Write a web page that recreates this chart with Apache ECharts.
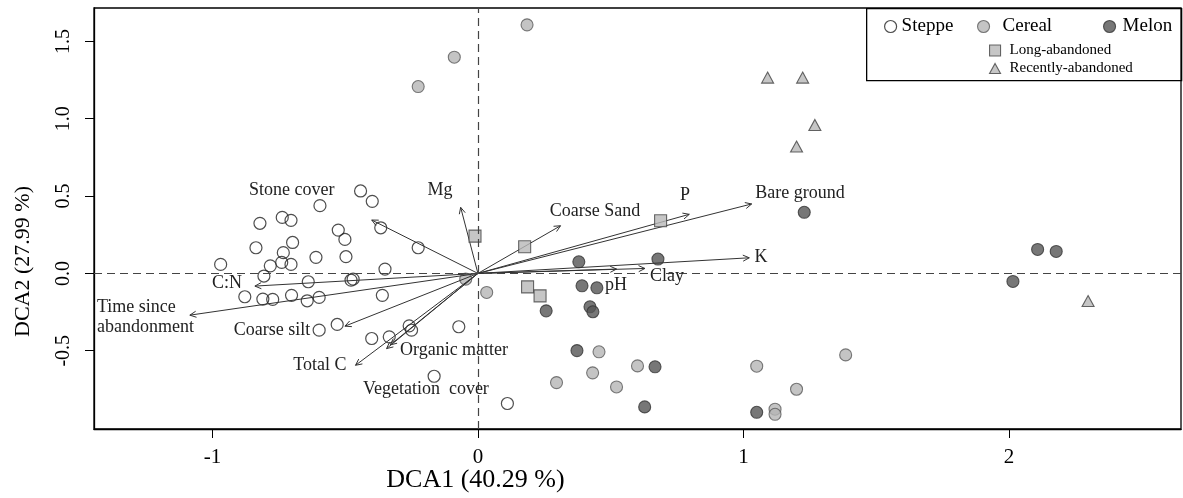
<!DOCTYPE html>
<html><head><meta charset="utf-8">
<script src="https://cdn.jsdelivr.net/npm/echarts@6/dist/echarts.min.js"></script>
<style>html,body{margin:0;padding:0;background:#fff}#c{width:1183px;height:498px}</style>
</head><body><div id="c"></div>
<script>
const xTicks = [-1, 0, 1, 2];
const yTicks = [-0.5, 0, 0.5, 1, 1.5];
const yTickLabels = ['-0.5', '0.0', '0.5', '1.0', '1.5'];

const steppe = [
  [-0.442,0.533],[-0.398,0.466],[-0.595,0.438],[-0.821,0.324],[-0.737,0.362],[-0.704,0.343],
  [-0.526,0.280],[-0.501,0.220],[-0.698,0.200],[-0.366,0.295],[-0.836,0.166],[-0.733,0.134],
  [-0.225,0.166],[-0.969,0.058],[-0.782,0.049],[-0.739,0.071],[-0.704,0.058],[-0.610,0.104],
  [-0.497,0.108],[-0.350,0.028],[-0.806,-0.017],[-0.639,-0.054],[-0.478,-0.043],[-0.470,-0.037],
  [-0.878,-0.151],[-0.810,-0.166],[-0.773,-0.168],[-0.702,-0.142],[-0.643,-0.177],[-0.598,-0.155],
  [-0.360,-0.142],[-0.598,-0.367],[-0.530,-0.330],[-0.400,-0.421],[-0.334,-0.410],[-0.259,-0.339],
  [-0.250,-0.367],[-0.072,-0.345],[-0.165,-0.665],[0.111,-0.841]
];
const cereal = [
  [-0.089,1.398],[-0.225,1.208],[0.185,1.607],[-0.046,-0.037],[0.033,-0.123],[0.456,-0.507],
  [0.601,-0.598],[1.050,-0.600],[0.432,-0.643],[0.296,-0.706],[0.522,-0.734],[1.200,-0.749],
  [1.119,-0.878],[1.119,-0.911],[1.385,-0.527]
];
const melon = [
  [1.229,0.395],[0.380,0.075],[0.678,0.093],[0.392,-0.080],[0.448,-0.093],[0.257,-0.242],
  [0.422,-0.216],[0.433,-0.248],[0.373,-0.499],[0.667,-0.604],[0.628,-0.863],[1.050,-0.898],
  [2.108,0.155],[2.178,0.142],[2.015,-0.052]
];
const longAbandoned = [[-0.011,0.241],[0.688,0.340],[0.176,0.172],[0.187,-0.087],[0.234,-0.145]];
const recentlyAbandoned = [[1.091,1.266],[1.223,1.266],[1.269,0.960],[1.200,0.820],[2.298,-0.179]];

const envNames = ['Stone cover','Mg','C:N','Time since\nabandonment','Coarse silt','Total C','Organic matter',
  'Vegetation  cover','Coarse Sand','P','Bare ground','K','Clay','pH'];
const envArrowX = [-0.400,-0.065,-0.840,-1.085,-0.501,-0.461,-0.344,-0.330,0.311,0.796,1.031,1.022,0.629,0.522];
const envArrowY = [0.345,0.427,-0.082,-0.270,-0.341,-0.594,-0.486,-0.462,0.308,0.382,0.449,0.101,0.032,0.028];
const envLabelX = [-0.701,-0.143,-0.945,-1.435,-0.776,-0.595,-0.090,-0.196,0.441,0.780,1.213,1.066,0.712,0.520];
const envLabelY = [0.539,0.539,-0.063,-0.283,-0.367,-0.593,-0.497,-0.749,0.403,0.507,0.520,0.106,-0.017,-0.076];

const FONT = "'Liberation Serif','Times New Roman',serif";
const arrowData = envArrowX.map((x, i) => [x, envArrowY[i]]);
const labelData = envLabelX.map((x, i) => [x, envLabelY[i], envNames[i]]);

const chart = echarts.init(document.getElementById('c'), null, {renderer: 'canvas'});

function legendItem(name, left, top, icon, fs, pad, style, w, h) {
  return {
    data: [name], left: left, top: top, orient: 'horizontal', icon: icon, padding: 0,
    itemWidth: w, itemHeight: h, selectedMode: false,
    itemStyle: style,
    textStyle: {fontFamily: FONT, fontSize: fs, color: '#000', padding: [0, 0, 0, pad]}
  };
}
const stStyle = {color: 'rgba(0,0,0,0)', borderColor: '#222', borderWidth: 1.2};
const ceStyle = {color: '#b5b5b5', borderColor: '#5a5a5a', borderWidth: 1.1};
const meStyle = {color: '#555555', borderColor: '#333', borderWidth: 1.1};
const sqStyle = {color: '#b8b8b8', borderColor: '#444', borderWidth: 1.1};
const trStyle = {color: '#b8b8b8', borderColor: '#404040', borderWidth: 1.1};

const option = {
  animation: false,
  backgroundColor: '#fff',
  grid: {left: 94, right: 2, top: 8, bottom: 69, show: true, borderColor: '#000', borderWidth: 1.3,
    containLabel: false, outerBoundsMode: 'none'},
  xAxis: {
    type: 'value', min: -1.446, max: 2.648,
    axisLine: {show: true, onZero: false, lineStyle: {color: '#000', width: 1.3}},
    splitLine: {show: false},
    axisTick: {show: true, customValues: xTicks, length: 9, lineStyle: {color: '#000'}},
    axisLabel: {customValues: xTicks, fontFamily: FONT, fontSize: 21, color: '#000', margin: 18},
    name: 'DCA1 (40.29 %)', nameLocation: 'middle', nameGap: 38, nameMoveOverlap: false,
    nameTextStyle: {fontFamily: FONT, fontSize: 26, color: '#000', padding: [0, 324, 0, 0]}
  },
  yAxis: {
    type: 'value', min: -1.006, max: 1.716,
    axisLine: {show: true, onZero: false, lineStyle: {color: '#000', width: 1.3}},
    splitLine: {show: false},
    axisTick: {show: true, customValues: yTicks, length: 9, lineStyle: {color: '#000'}},
    axisLabel: {customValues: yTicks, rotate: 90, fontFamily: FONT, fontSize: 20, color: '#000', margin: 20,
      formatter: v => yTickLabels[yTicks.findIndex(t => Math.abs(t - v) < 1e-9)] ?? String(v)},
    name: 'DCA2 (27.99 %)', nameLocation: 'middle', nameGap: 60, nameRotate: 90, nameMoveOverlap: false,
    nameTextStyle: {fontFamily: FONT, fontSize: 22, color: '#000', padding: [0, 86, 0, 0]}
  },
  legend: [
    legendItem('Steppe', 884, 17, 'circle', 19, 0, stStyle, 12, 12),
    legendItem('Cereal', 977, 17, 'circle', 19, 8, ceStyle, 12, 12),
    legendItem('Melon', 1103, 17, 'circle', 19, 2, meStyle, 12, 12),
    legendItem('Long-abandoned', 989, 43, 'rect', 15, 4, sqStyle, 11, 11),
    legendItem('Recently-abandoned', 989, 61, 'triangle', 15, 4, trStyle, 11, 10)
  ],
  graphic: [{
    type: 'rect', left: 866, top: 8, shape: {width: 315, height: 72},
    style: {fill: 'rgba(0,0,0,0)', stroke: '#000', lineWidth: 1.3}, z: 100
  }],
  series: [
    {
      type: 'scatter', name: 'Steppe', data: steppe, symbol: 'circle', symbolSize: 12,
      itemStyle: stStyle, z: 2, silent: true,
      markLine: {
        silent: true, symbol: 'none', label: {show: false},
        lineStyle: {color: '#444', type: [8, 5], width: 1.2},
        data: [{xAxis: 0}, {yAxis: 0}]
      }
    },
    {type: 'scatter', name: 'Cereal', data: cereal, symbol: 'circle', symbolSize: 12, itemStyle: ceStyle, z: 2, silent: true},
    {type: 'scatter', name: 'Melon', data: melon, symbol: 'circle', symbolSize: 12, itemStyle: meStyle, z: 2, silent: true},
    {
      type: 'custom', name: 'arrows', data: arrowData, z: 3, silent: true,
      renderItem: function (params, api) {
        const o = api.coord([0, 0]);
        const t = api.coord([api.value(0), api.value(1)]);
        const ang = Math.atan2(t[1] - o[1], t[0] - o[0]);
        const L = 7, a = Math.PI / 7;
        const h1 = [t[0] - L * Math.cos(ang - a), t[1] - L * Math.sin(ang - a)];
        const h2 = [t[0] - L * Math.cos(ang + a), t[1] - L * Math.sin(ang + a)];
        return {type: 'group', children: [
          {type: 'line', shape: {x1: o[0], y1: o[1], x2: t[0], y2: t[1]}, style: {stroke: '#333', lineWidth: 1}},
          {type: 'polyline', shape: {points: [h1, t, h2]}, style: {stroke: '#333', fill: null, lineWidth: 1}}
        ]};
      }
    },
    {type: 'scatter', name: 'Long-abandoned', data: longAbandoned, symbol: 'rect', symbolSize: 12, itemStyle: sqStyle, z: 4, silent: true},
    {type: 'scatter', name: 'Recently-abandoned', data: recentlyAbandoned, symbol: 'triangle', symbolSize: [12, 11], itemStyle: trStyle, z: 4, silent: true},
    {
      type: 'custom', name: 'labels', data: labelData, z: 5, silent: true,
      renderItem: function (params, api) {
        const p = api.coord([api.value(0), api.value(1)]);
        const txt = labelData[params.dataIndex][2];
        const multi = txt.indexOf('\n') >= 0;
        return {type: 'text', x: p[0], y: p[1], style: {
          text: txt, fontFamily: FONT, fontSize: 18, fill: '#222',
          align: multi ? 'left' : 'center', verticalAlign: 'middle', lineHeight: 20
        }};
      }
    }
  ]
};
chart.setOption(option);
</script>
</body></html>
